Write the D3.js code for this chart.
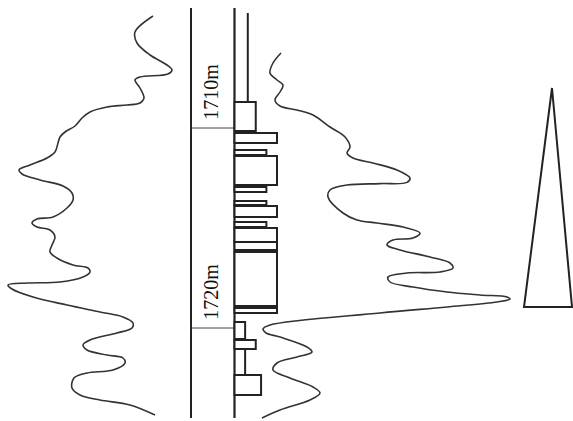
<!DOCTYPE html>
<html>
<head>
<meta charset="utf-8">
<script src="https://cdn.jsdelivr.net/npm/d3@7"></script>
<style>
  body { margin: 0; background: #fff; }
  svg { display: block; }
</style>
</head>
<body>
<svg class="logPlot"></svg>
<script>
'use strict';

var WIDTH = 573;
var HEIGHT = 421;

// depth marks (m)
var depthMarks = [1710, 1720];
var depthLabels = ["1710m", "1720m"];

// left curve: [depth, value]
var leftCurve = [
  [1704.4, 74], [1705.2, 65], [1705.75, 66], [1706.35, 72.5], [1706.85, 81], [1707.1, 83.5],
  [1707.3, 81.5], [1707.45, 67.5], [1707.6, 65], [1708.0, 67.5], [1708.5, 69.5], [1708.75, 67.5],
  [1708.85, 61], [1708.95, 51], [1709.2, 42.5], [1709.5, 38.5], [1709.9, 35], [1710.2, 30],
  [1710.45, 27.5], [1710.75, 26.5], [1711.2, 25], [1711.5, 21], [1711.85, 12.5], [1712.1, 7],
  [1712.3, 8.5], [1712.6, 17.5], [1712.9, 29], [1713.25, 33.5], [1713.6, 34], [1714.0, 31],
  [1714.45, 24], [1714.55, 16], [1714.75, 13.5], [1714.95, 16], [1715.1, 22.5], [1715.45, 25],
  [1715.85, 23.5], [1716.2, 22.5], [1716.5, 26], [1716.85, 34], [1717.0, 41.5], [1717.2, 42.5],
  [1717.45, 39], [1717.7, 27.5], [1717.75, 11], [1717.85, 1.5], [1718.05, 3.5], [1718.45, 14],
  [1718.85, 31], [1719.2, 47.5], [1719.45, 59], [1719.75, 64], [1720.0, 63.5], [1720.25, 56],
  [1720.6, 42.5], [1720.85, 39], [1721.1, 41], [1721.35, 51], [1721.5, 59], [1721.75, 60],
  [1722.1, 54], [1722.25, 41], [1722.5, 34.5], [1723.0, 33.5], [1723.35, 37.5], [1723.6, 47.5],
  [1723.85, 62.5], [1724.35, 75]
];

// right curve: [depth, value]
var rightCurve = [
  [1706.25, 10.5], [1706.75, 6.5], [1707.25, 5], [1707.6, 8.5], [1707.85, 11.5], [1708.2, 10],
  [1708.6, 7.5], [1708.9, 10], [1709.1, 18.5], [1709.35, 26.5], [1709.95, 35], [1710.45, 42.5],
  [1710.95, 45], [1711.25, 43.5], [1711.5, 46.5], [1711.75, 56.5], [1712.1, 68.5], [1712.5, 75],
  [1712.72, 73.5], [1712.78, 60], [1712.85, 43.5], [1713.1, 35], [1713.45, 34], [1714.25, 41.5],
  [1714.6, 48.5], [1714.75, 58.5], [1714.95, 71.5], [1715.25, 80], [1715.5, 76.5], [1715.6, 66.5],
  [1715.85, 63.5], [1716.1, 70], [1716.45, 85], [1716.75, 95], [1717.0, 96.5], [1717.2, 90],
  [1717.25, 73.5], [1717.45, 64], [1717.7, 65], [1717.95, 76.5], [1718.2, 93.5], [1718.35, 110],
  [1718.45, 123.5], [1718.55, 125], [1718.7, 118.5], [1718.95, 93.5], [1719.25, 60], [1719.85, 5],
  [1720.05, 1.5], [1720.25, 3], [1720.45, 10], [1720.95, 23.5], [1721.2, 26], [1721.45, 18.5],
  [1721.75, 8.5], [1722.1, 6.5], [1722.5, 15], [1722.95, 26.5], [1723.25, 30], [1723.6, 25],
  [1724.1, 10], [1724.5, 1]
];

// lithology column: top, bottom, grain class
var layerTop =    [1708.7, 1710.25, 1711.1, 1711.4, 1712.95, 1713.65, 1713.9, 1714.7, 1715.0, 1715.7, 1716.2, 1719.0, 1719.7, 1720.6, 1722.35];
var layerBottom = [1710.15, 1710.75, 1711.35, 1712.85, 1713.2, 1713.85, 1714.45, 1714.95, 1715.7, 1716.1, 1718.9, 1719.25, 1720.55, 1721.05, 1723.35];
var layerGrain =  [4, 8, 6, 8, 6, 6, 8, 6, 8, 8, 8, 8, 2, 4, 5];

// thin intervals drawn as a single line: top, bottom, grain class
var stemTop =    [1704.25, 1721.05];
var stemBottom = [1708.7, 1722.35];
var stemGrain =  [2.5, 2];

// fining trend triangle (depth range)
var trendTop = 1708;
var trendBase = 1718.95;

var INK = "#222";

var depth = d3.scaleLinear().domain([1704, 1725]).range([8, 428]);
var leftX = d3.scaleLinear().domain([0, 85]).range([5, 175]);
var rightX = d3.scaleLinear().domain([0, 130]).range([260, 520]);
var grainX = d3.scaleLinear().domain([0, 8]).range([234.5, 277]);

var TRACK_LEFT = 191;
var TRACK_RIGHT = grainX(0);

var svg = d3.select(".logPlot")
  .attr("width", WIDTH)
  .attr("height", HEIGHT);

// curves
var curveLine = function(xs) {
  return d3.line()
    .x(function(d){ return xs(d[1]); })
    .y(function(d){ return depth(d[0]); })
    .curve(d3.curveCatmullRom.alpha(0.5));
};

svg.append("path").datum(leftCurve)
  .attr("d", curveLine(leftX))
  .attr("fill", "none").attr("stroke", "#333").attr("stroke-width", 1.6);

svg.append("path").datum(rightCurve)
  .attr("d", curveLine(rightX))
  .attr("fill", "none").attr("stroke", "#333").attr("stroke-width", 1.6);

// depth track
var depthExtent = [1704, 1724.5];
svg.append("line")
  .attr("x1", TRACK_LEFT).attr("x2", TRACK_LEFT)
  .attr("y1", depth(depthExtent[0])).attr("y2", depth(depthExtent[1]))
  .attr("stroke", INK).attr("stroke-width", 2);
svg.append("line")
  .attr("x1", TRACK_RIGHT).attr("x2", TRACK_RIGHT)
  .attr("y1", depth(depthExtent[0])).attr("y2", depth(depthExtent[1]))
  .attr("stroke", INK).attr("stroke-width", 2.2);

svg.selectAll(".mark").data(depthMarks).enter().append("line")
  .attr("class", "mark")
  .attr("x1", TRACK_LEFT).attr("x2", TRACK_RIGHT)
  .attr("y1", function(d){ return depth(d); })
  .attr("y2", function(d){ return depth(d); })
  .attr("stroke", "#444").attr("stroke-width", 1);

svg.selectAll(".depthLabel").data(depthMarks).enter().append("text")
  .attr("class", "depthLabel")
  .attr("transform", function(d){ return "translate(218," + (depth(d) - 36) + ") rotate(-90)"; })
  .attr("text-anchor", "middle")
  .attr("font-family", "'Liberation Serif', 'Times New Roman', serif")
  .attr("font-size", 20)
  .attr("fill", "#111")
  .text(function(d, i){ return depthLabels[i]; });

// lithology column
var layers = layerTop.map(function(t, i){ return { top: t, bottom: layerBottom[i], grain: layerGrain[i] }; });
svg.selectAll(".layer").data(layers).enter().append("rect")
  .attr("class", "layer")
  .attr("x", grainX(0))
  .attr("y", function(d){ return depth(d.top); })
  .attr("width", function(d){ return grainX(d.grain) - grainX(0); })
  .attr("height", function(d){ return depth(d.bottom) - depth(d.top); })
  .attr("fill", "#fff").attr("stroke", INK).attr("stroke-width", 2);

var stems = stemTop.map(function(t, i){ return { top: t, bottom: stemBottom[i], grain: stemGrain[i] }; });
svg.selectAll(".stem").data(stems).enter().append("line")
  .attr("class", "stem")
  .attr("x1", function(d){ return grainX(d.grain); })
  .attr("x2", function(d){ return grainX(d.grain); })
  .attr("y1", function(d){ return depth(d.top); })
  .attr("y2", function(d){ return depth(d.bottom); })
  .attr("stroke", INK).attr("stroke-width", 2);

// trend triangle
var tri = [[552, depth(trendTop)], [524, depth(trendBase)], [572, depth(trendBase)]];
svg.append("path")
  .attr("d", "M" + tri.join("L") + "Z")
  .attr("fill", "none").attr("stroke", INK).attr("stroke-width", 2);
</script>
</body>
</html>
